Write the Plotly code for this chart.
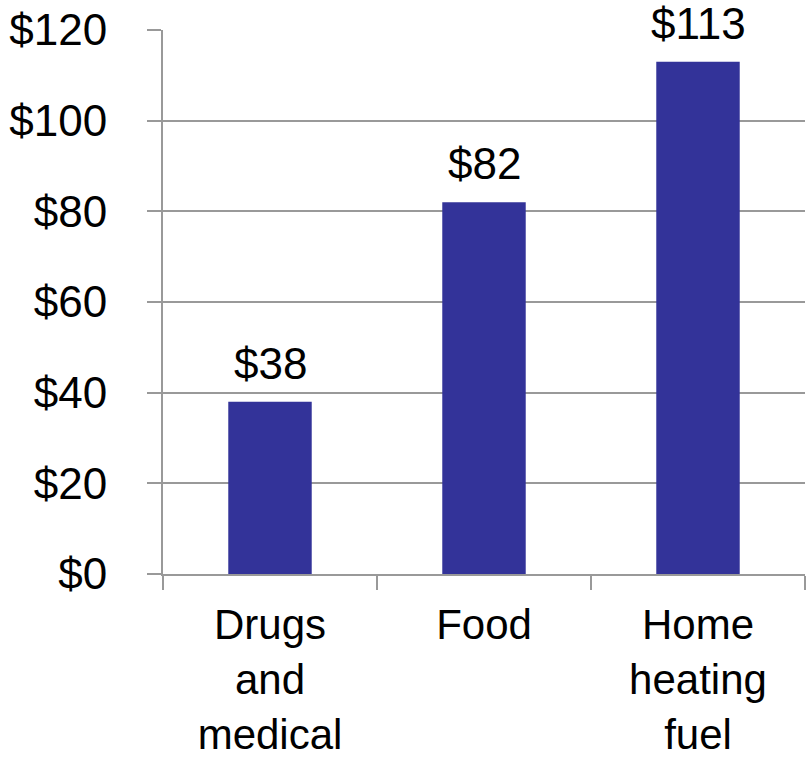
import plotly.graph_objects as go

categories = ["Drugs<br>and<br>medical", "Food", "Home<br>heating<br>fuel"]
values = [38, 82, 113]
y_ticks = [0, 20, 40, 60, 80, 100, 120]
y_tick_labels = [f"${v}" for v in y_ticks]

bar_color = "#333399"
grid_color = "#999999"
font_family = "Liberation Sans, Arial, sans-serif"
font_size = 44
category_font_size = 42

fig = go.Figure(
    go.Bar(
        x=categories,
        y=values,
        marker=dict(color=bar_color, line=dict(width=0)),
        width=0.39,
        hoverinfo="skip",
    )
)

for cat, val in zip(categories, values):
    fig.add_annotation(
        x=cat, y=val, text=f"${val}", showarrow=False,
        yanchor="bottom", yshift=12,
        font=dict(size=font_size, color="black", family=font_family),
    )

fig.update_layout(
    width=808, height=764,
    margin=dict(l=163, r=3, t=30, b=190),
    plot_bgcolor="white", paper_bgcolor="white",
    showlegend=False,
    font=dict(family=font_family, size=font_size, color="black"),
)

fig.update_xaxes(
    showline=True, linecolor=grid_color, linewidth=2,
    ticks="outside", tickson="boundaries", ticklen=14, tickwidth=2, tickcolor=grid_color,
    showgrid=False, tickfont=dict(size=category_font_size), ticklabelstandoff=13,
    automargin=False,
)

fig.update_yaxes(
    range=[0, 120], tickmode="array", tickvals=y_ticks, ticktext=y_tick_labels,
    showgrid=True, gridcolor=grid_color, gridwidth=2,
    showline=True, linecolor=grid_color, linewidth=2,
    ticks="outside", ticklen=14, tickwidth=2, tickcolor=grid_color,
    zeroline=False, tickfont=dict(size=font_size), ticklabelstandoff=31,
    automargin=False,
)

fig.write_html("out.html")
